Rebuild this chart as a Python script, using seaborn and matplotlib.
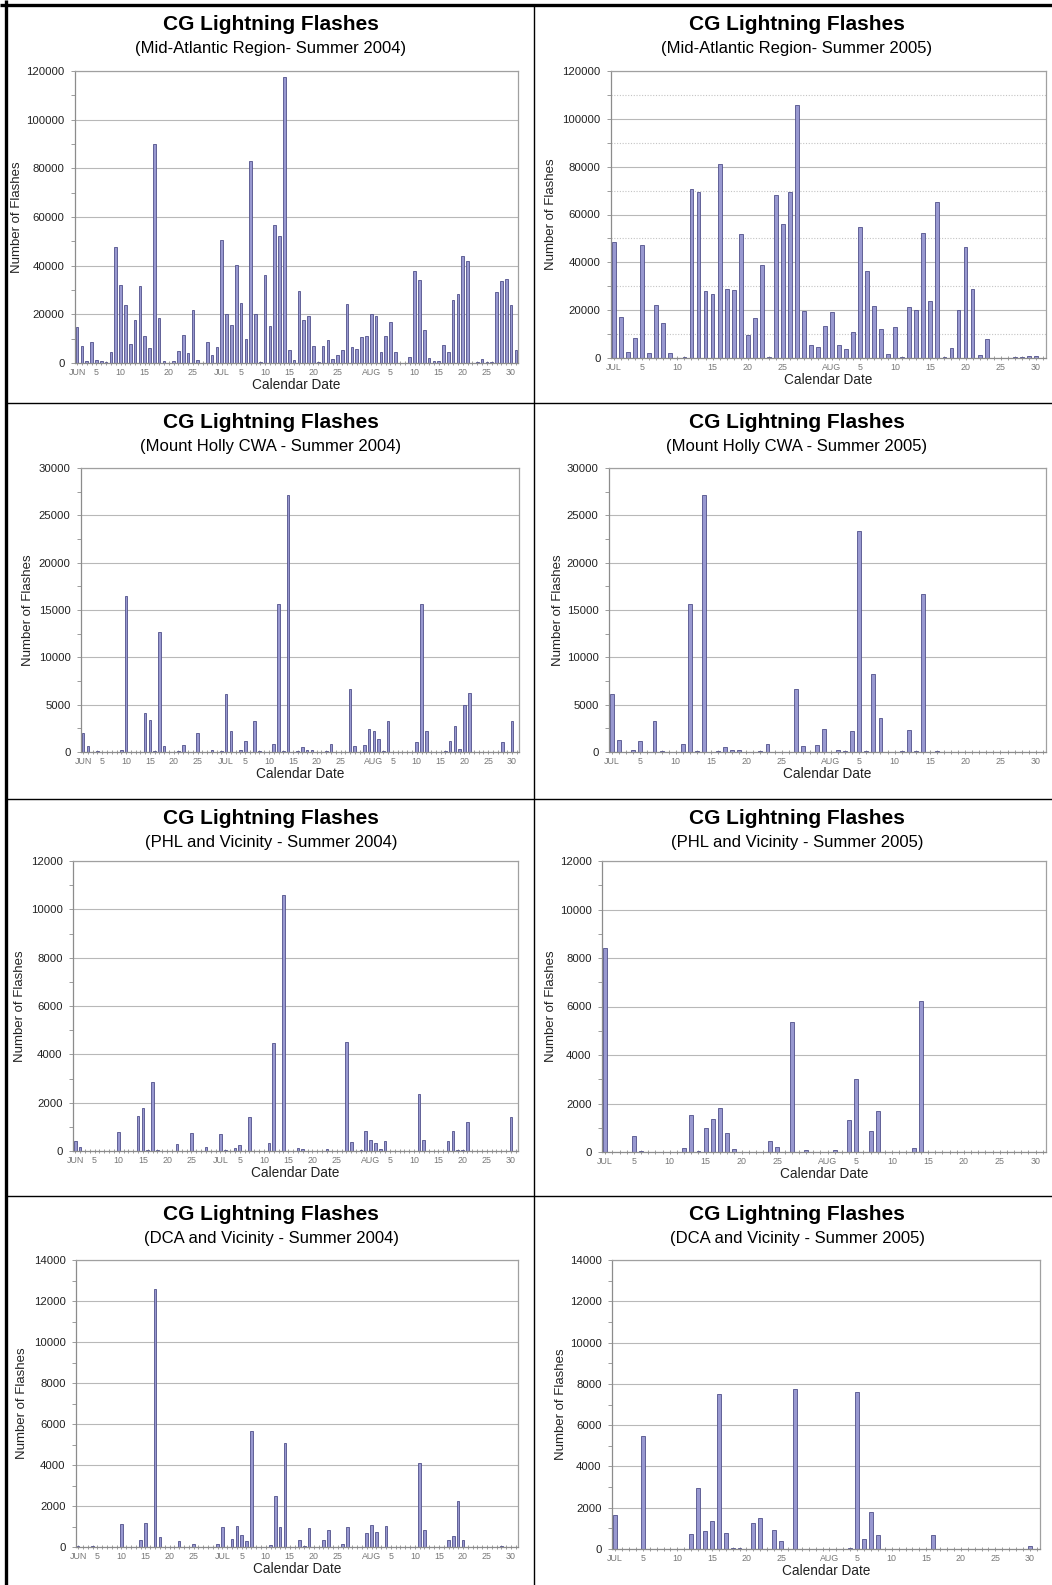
import numpy as np
import pandas as pd
import matplotlib
matplotlib.use("Agg")
import matplotlib.pyplot as plt
import seaborn as sns
from matplotlib.ticker import MultipleLocator, FixedLocator, StrMethodFormatter
from matplotlib.lines import Line2D

# ---------------- data ----------------
dates_2004 = pd.date_range("2004-06-01", "2004-08-31", freq="D")
dates_2005 = pd.date_range("2005-07-01", "2005-08-31", freq="D")

midatl_2004 = [
    14800, 6850, 700, 8500, 1400, 700, 300, 4400, 47500, 32000, 24000, 7700, 17800, 31600, 11200,
    6300, 90000, 18500, 700, 200, 700, 4900, 11500, 4100, 21900, 1400, 0, 8500, 3400, 6400,
    50400, 20000, 15500, 40300, 24500, 9900, 83000, 20000, 300, 36000, 15100, 56900, 52000, 117500, 5300,
    1400, 29600, 17500, 19200, 6800, 300, 7100, 9300, 1500, 3400, 5300, 24400, 6400, 5900, 10700, 11200,
    20300, 19500, 4500, 11200, 16700, 4500, 0, 0, 2500, 37800, 34000, 13400, 2000, 800, 800,
    7300, 4500, 26000, 28500, 43800, 41800, 0, 300, 1500, 300, 300, 29300, 33700, 34500, 24000, 5300,
]
midatl_2005 = [
    48600, 17000, 2400, 8200, 47100, 2100, 22100, 14600, 2100, 0, 400, 70500, 69400, 28200, 26700,
    81300, 28900, 28400, 51800, 9700, 16800, 38900, 300, 68100, 55900, 69200, 105900, 19600, 5600, 4400, 13200,
    19200, 5600, 3900, 10800, 54900, 36400, 21800, 12100, 1700, 12800, 400, 21400, 20200, 52100, 24000,
    65300, 400, 4200, 19900, 46400, 28900, 1400, 8100, 0, 0, 0, 400, 300, 800, 1000, 0,
]
mtholly_2004 = [
    2000, 600, 0, 100, 0, 0, 0, 0, 200, 16500, 0, 0, 0, 4150, 3400,
    100, 12700, 670, 0, 0, 100, 740, 0, 0, 2040, 0, 0, 250, 0, 100,
    6100, 2250, 0, 180, 1160, 0, 3270, 100, 0, 0, 880, 15600, 100, 27200, 0,
    100, 530, 200, 180, 0, 0, 100, 880, 0, 0, 0, 6700, 670, 0, 700, 2430,
    2180, 1400, 100, 3270, 0, 0, 0, 0, 0, 1020, 15600, 2200, 0, 0, 0,
    70, 1200, 2700, 300, 5000, 6270, 0, 0, 0, 0, 0, 0, 1020, 0, 3270, 0,
]
mtholly_2005 = [
    6100, 1300, 0, 180, 1160, 0, 3270, 70, 0, 0, 880, 15600, 140, 27200, 0,
    140, 530, 180, 180, 0, 0, 100, 880, 0, 0, 0, 6650, 670, 0, 700, 2400,
    0, 250, 100, 2250, 23300, 70, 8270, 3600, 0, 0, 70, 2360, 100, 16700, 0,
    70, 0, 0, 0, 0, 0, 0, 0, 0, 0, 0, 0, 0, 0, 0, 0,
]
phl_2004 = [
    410, 170, 0, 10, 0, 0, 0, 0, 0, 800, 0, 0, 0, 1440, 1800,
    40, 2840, 30, 0, 0, 0, 280, 0, 0, 760, 0, 0, 150, 0, 0,
    690, 55, 0, 120, 250, 0, 1410, 0, 0, 0, 350, 4460, 0, 10600, 0,
    0, 140, 70, 14, 0, 0, 0, 80, 0, 0, 0, 4490, 390, 0, 55, 840,
    440, 330, 100, 410, 0, 0, 0, 0, 0, 0, 2350, 470, 0, 0, 0,
    0, 410, 810, 30, 30, 1200, 0, 0, 0, 0, 0, 0, 0, 0, 1410, 0,
]
phl_2005 = [
    8420, 0, 0, 0, 660, 55, 0, 0, 0, 0, 0, 150, 1520, 55, 980,
    1380, 1820, 800, 110, 0, 0, 0, 0, 440, 190, 0, 5380, 0, 70, 0, 0,
    0, 70, 0, 1300, 3000, 0, 860, 1710, 0, 0, 0, 14, 150, 6240, 0,
    0, 0, 0, 0, 0, 0, 0, 0, 0, 0, 0, 0, 0, 0, 14, 0,
]
dca_2004 = [
    30, 0, 0, 30, 0, 0, 0, 0, 0, 1140, 0, 0, 0, 360, 1190,
    0, 12570, 500, 0, 0, 0, 280, 0, 0, 130, 0, 0, 0, 0, 130,
    960, 0, 390, 1010, 600, 310, 5670, 0, 0, 0, 80, 2500, 990, 5070, 0,
    0, 330, 30, 930, 0, 0, 330, 850, 0, 0, 150, 980, 0, 0, 0, 700,
    1090, 730, 0, 1020, 0, 0, 0, 0, 0, 0, 4110, 830, 0, 0, 0,
    0, 330, 550, 2260, 360, 0, 0, 0, 0, 0, 0, 0, 50, 0, 0, 0,
]
dca_2005 = [
    1640, 0, 0, 0, 5470, 0, 0, 0, 0, 0, 0, 740, 2960, 870, 1350,
    7500, 770, 65, 65, 0, 1240, 1510, 0, 930, 400, 0, 7740, 0, 15, 0, 0,
    0, 0, 0, 65, 7610, 470, 1770, 660, 15, 0, 0, 0, 15, 0, 15,
    680, 0, 0, 0, 0, 0, 0, 0, 0, 0, 0, 0, 0, 0, 145, 0,
]

title_text = "CG Lightning Flashes"
subtitles = [
    "(Mid-Atlantic Region- Summer 2004)", "(Mid-Atlantic Region- Summer 2005)",
    "(Mount Holly CWA - Summer 2004)", "(Mount Holly CWA - Summer 2005)",
    "(PHL and Vicinity - Summer 2004)", "(PHL and Vicinity - Summer 2005)",
    "(DCA and Vicinity - Summer 2004)", "(DCA and Vicinity - Summer 2005)",
]
y_max = [120000, 120000, 30000, 30000, 12000, 12000, 14000, 14000]
y_step = [20000, 20000, 5000, 5000, 2000, 2000, 2000, 2000]
series = [midatl_2004, midatl_2005, mtholly_2004, mtholly_2005,
          phl_2004, phl_2005, dca_2004, dca_2005]
series_dates = [dates_2004, dates_2005] * 4
x_title = "Calendar Date"
y_title = "Number of Flashes"

# ---------------- style / layout ----------------
sns.set_theme(style="white")
plt.rcParams["font.family"] = ["Liberation Sans", "DejaVu Sans"]

W, H = 1052, 1585
fig = plt.figure(figsize=(W / 100, H / 100), dpi=100)
fig.patch.set_facecolor("white")

# axes boxes in pixels: left, top, right, bottom
boxes = [
    (75, 71, 518, 363), (611, 71, 1046, 358),
    (81, 468, 519, 752), (609, 468, 1046, 752),
    (73, 861, 518, 1151), (602, 861, 1046, 1152),
    (76, 1260, 518, 1547), (612, 1260, 1040, 1549),
]
ylabel_x = [17, 551, 28, 558, 20, 551, 22, 561]
title_y = [25, 423, 819, 1215]
subtitle_y = [49, 446, 842, 1238]
col_cx = [271, 797]
minor_dotted = [False, True, False, False, False, False, False, False]

BAR = "#9898d0"
EDGE = "#50508a"
GRID = "#b8b8b8"
FRAME = "#a0a0a0"


def tick_spec(dates):
    pos, lab = [], []
    last_month = dates[-1].month
    for i, d in enumerate(dates):
        if d.day == 1:
            pos.append(i); lab.append(d.strftime("%b").upper())
        elif d.day in (5, 10, 15, 20, 25) or (d.day == 30 and d.month == last_month):
            pos.append(i); lab.append(str(d.day))
    return pos, lab


for k in range(8):
    l, t, r, b = boxes[k]
    ax = fig.add_axes([l / W, 1 - b / H, (r - l) / W, (b - t) / H])
    dates = series_dates[k]
    vals = series[k]
    n = len(vals)
    df = pd.DataFrame({"day": np.arange(n), "flashes": vals})
    sns.barplot(data=df, x="day", y="flashes", ax=ax, color=BAR, saturation=1,
                width=0.55, edgecolor=EDGE, linewidth=0.6)
    ax.set_xlim(-0.45, n - 0.55)
    ax.set_ylim(0, y_max[k])
    ax.set_xlabel("")
    ax.set_ylabel("")

    ax.yaxis.set_major_locator(MultipleLocator(y_step[k]))
    ax.yaxis.set_minor_locator(MultipleLocator(y_step[k] / 2))
    ax.yaxis.set_major_formatter(StrMethodFormatter("{x:.0f}"))
    ax.grid(False)
    ax.grid(axis="y", which="major", color=GRID, lw=0.8)
    if minor_dotted[k]:
        ax.grid(axis="y", which="minor", color="#c4c4c4", lw=0.8, ls=(0, (1, 1.5)))
    ax.set_axisbelow(True)

    pos, lab = tick_spec(dates)
    ax.xaxis.set_major_locator(FixedLocator(pos))
    ax.set_xticklabels(lab)
    ax.xaxis.set_minor_locator(FixedLocator(np.arange(n)))
    ax.tick_params(axis="x", which="both", direction="inout", length=3.5, width=0.6,
                   color="#8c8c8c", bottom=True)
    ax.tick_params(axis="x", which="major", labelsize=6.4, labelcolor="#777777", pad=2)
    ax.tick_params(axis="y", which="both", direction="out", length=3, width=0.6,
                   color="#8c8c8c", left=True)
    ax.tick_params(axis="y", which="major", labelsize=8.2, labelcolor="#222222", pad=4.5)
    for sp in ax.spines.values():
        sp.set_visible(True)
        sp.set_color(FRAME)
        sp.set_linewidth(0.9)
    ax.spines["left"].set_color("#8c8c8c")
    ax.spines["bottom"].set_color("#8c8c8c")

    row, col = divmod(k, 2)
    fig.text(col_cx[col] / W, 1 - title_y[row] / H, title_text, ha="center", va="center",
             fontsize=15, fontweight="bold", color="black")
    fig.text(col_cx[col] / W, 1 - subtitle_y[row] / H, subtitles[k], ha="center", va="center",
             fontsize=12, color="black")
    fig.text((l + r) / 2 / W, 1 - (b + 22) / H, x_title, ha="center", va="center",
             fontsize=9.8, color="#222222")
    fig.text(ylabel_x[k] / W, 1 - (t + b) / 2 / H, y_title, ha="center", va="center",
             rotation=90, fontsize=9.5, color="#222222")

# panel frame lines
def fline(x0, y0, x1, y1, lw):
    fig.add_artist(Line2D([x0 / W, x1 / W], [1 - y0 / H, 1 - y1 / H],
                          transform=fig.transFigure, color="black", lw=lw,
                          solid_capstyle="butt"))

fline(6, 0, 6, H, 2.4)          # outer left
fline(0, 5, W, 5, 2.4)          # outer top
fline(534, 5, 534, H, 1.0)      # column divider
for yy in (403, 799, 1196):
    fline(6, yy, W, yy, 1.0)

fig.savefig("out.png", dpi=100, facecolor="white")
